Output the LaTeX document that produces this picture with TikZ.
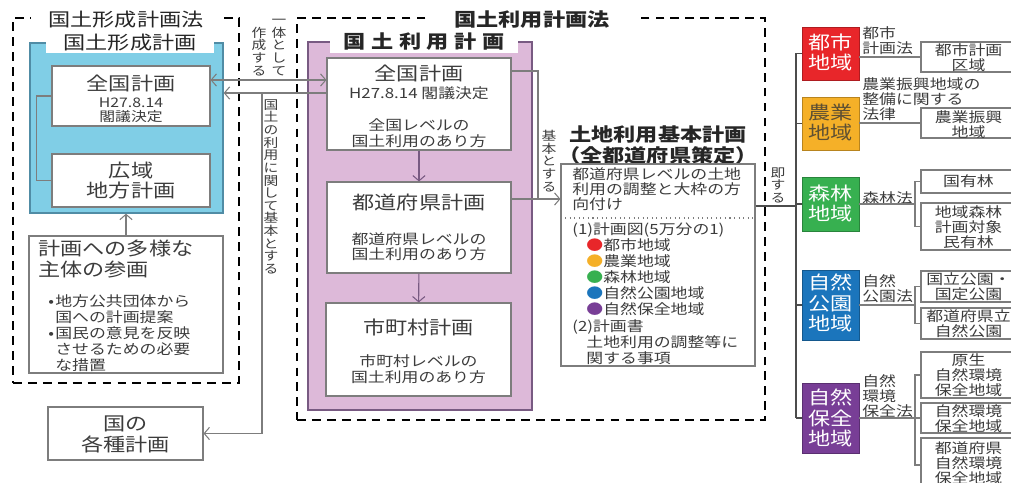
\documentclass[tikz,border=0pt]{standalone}
\usepackage{fontspec}
\setmainfont{Noto Sans CJK JP}[FakeStretch=1.2]
\usetikzlibrary{fit,arrows.meta}

\definecolor{kpanel}{RGB}{128,206,230}
\definecolor{kline}{RGB}{80,140,165}
\definecolor{rpanel}{RGB}{221,185,217}
\definecolor{rline}{RGB}{120,90,130}
\definecolor{lgray}{RGB}{125,125,125}
\definecolor{txt}{RGB}{60,60,60}
\definecolor{cToshi}{RGB}{232,38,42}
\definecolor{cNogyo}{RGB}{245,176,40}
\definecolor{cShinrin}{RGB}{55,176,80}
\definecolor{cKoen}{RGB}{27,117,188}
\definecolor{cHozen}{RGB}{120,62,150}
\definecolor{nogyoText}{RGB}{95,80,50}

\newcommand\fL{\fontsize{10.5}{11.6}\selectfont\lineskiplimit=-\maxdimen}
\newcommand\fM{\fontsize{8}{8.6}\selectfont\lineskiplimit=-\maxdimen}
\newcommand\fB{\fontsize{8}{9.2}\selectfont\lineskiplimit=-\maxdimen}
\newcommand\fS{\fontsize{7.5}{8.2}\selectfont\lineskiplimit=-\maxdimen}
\newcommand\fV{\fontsize{7}{7.2}\selectfont\lineskiplimit=-\maxdimen}
\newcommand\bul{\makebox[0.5em][l]{•}}

\begin{document}
\begin{tikzpicture}[x=0.02cm,y=-0.02cm,>={Straight Barb[length=3pt,width=7pt]},
  box/.style={draw=lgray,fill=white,line width=0.6pt,inner sep=0pt,align=center,text=txt},
  inbox/.style={anchor=north,inner sep=0pt,align=center,text=txt},
  panel/.style={line width=0.8pt,inner sep=0pt},
  frame/.style={draw=black,line width=1.6pt,dash pattern=on 5pt off 3.5pt,inner sep=0pt},
  head/.style={fill=white,inner ysep=1pt,text=black!85},
  chip/.style={draw=#1!75!black,fill=#1,inner sep=0pt},
  law/.style={inner sep=0pt,align=left,text=txt,font=\fM},
  vtext/.style={inner sep=0pt,align=center,text=txt,font=\fV},
  link/.style={draw=lgray,line width=0.6pt}]
\useasboundingbox (0,0) rectangle (1011,483);
\clip (0,0) rectangle (1011,483);

% frames of the two laws
    \node[frame,fit={(13,18) (239,383)}] (fL) {};
    \node[frame,fit={(297,18) (765,420)}] (fC) {};
    \node[head,font=\fL,inner xsep=10pt] (fLt) at (126,20) {国土形成計画法};
    \node[head,font=\fL\bfseries,inner xsep=15pt] (fCt) at (532,20) {国土利用計画法};

% left: 国土形成計画
    \node[panel,draw=kline,fill=kpanel,fit={(30,43) (223,213)}] (kp) {};
    \node[head,font=\fL,inner xsep=10pt] (kpt) at (130,43) {国土形成計画};
    \node[box,fit={(52,66) (210,126)}] (zkL) {};
    \node[inbox,font=\fS] (zkLt) at ([yshift=-5.1pt]zkL.north) {\fL 全国計画\\[1.6pt]\fS H27.8.14\\閣議決定};
    \node[box,fit={(52,154) (210,207)}] (kouiki) {};
    \node[inbox,font=\fL] (kouikit) at ([yshift=-4.5pt]kouiki.north) {広域\\地方計画};
    \node[box,fit={(29,236) (223,373)}] (sankaku) {};
    \node[inner sep=0pt,anchor=north west,align=left,text=txt,font=\fL] (sankakuT) at (38,240) {計画への多様な\\主体の参画};
    \node[inner sep=0pt,anchor=north west,align=left,text=txt,font=\fB] (sankakuB) at (48,294)
      {\bul 地方公共団体から\\\hspace*{0.5em}国への計画提案\\\bul 国民の意見を反映\\\hspace*{0.5em}させるための必要\\\hspace*{0.5em}な措置};
    \node[box,fit={(48,407) (203,460)}] (kakushu) {};
    \node[inbox,font=\fL] (kakushut) at ([yshift=-5.4pt]kakushu.north) {国の\\各種計画};

% center: 国土利用計画
    \node[panel,draw=rline,fill=rpanel,fit={(308,42) (532,410)}] (rp) {};
    \node[head,font=\fL\bfseries,inner xsep=8pt] (rpt) at (424,42) {国\hspace{.3em}土\hspace{.3em}利\hspace{.3em}用\hspace{.3em}計\hspace{.3em}画};
    \node[box,fit={(327,58) (511,150)}] (zkC) {};
    \node[inbox,font=\fM] (zkCt) at ([yshift=-4pt]zkC.north) {\fL 全国計画\\[1.6pt]\fM H27.8.14 閣議決定\\[10pt]全国レベルの\\国土利用のあり方};
    \node[box,fit={(327,182) (511,273)}] (tdfk) {};
    \node[inbox,font=\fM] (tdfkt) at ([yshift=-6.8pt]tdfk.north) {\fL 都道府県計画\\[11.5pt]\fM 都道府県レベルの\\国土利用のあり方};
    \node[box,fit={(326,303) (511,396)}] (sck) {};
    \node[inbox,font=\fM] (sckt) at ([yshift=-9pt]sck.north) {\fL 市町村計画\\[10pt]\fM 市町村レベルの\\国土利用のあり方};

% 土地利用基本計画
    \node[inner sep=0pt,font=\fL\bfseries,align=center,text=black!85] (kihonT) at (658,145) {土地利用基本計画\\（全都道府県策定）};
    \node[box,fit={(561,164) (755,366)}] (kihon) {};
    \node[law,anchor=north west] (kihonA) at (572,167) {都道府県レベルの土地\\利用の調整と大枠の方\\向付け};
    \coordinate (sep) at (0,218);
    \draw[link,dotted] (sep -| kihon.west) -- (sep -| kihon.east);
    \node[law,font=\fB,anchor=north west] (kihonB) at (572,222)
      {(1)計画図(5万分の1)\\
       \hspace*{1em}{\color{cToshi}●}都市地域\\
       \hspace*{1em}{\color{cNogyo}●}農業地域\\
       \hspace*{1em}{\color{cShinrin}●}森林地域\\
       \hspace*{1em}{\color{cKoen}●}自然公園地域\\
       \hspace*{1em}{\color{cHozen}●}自然保全地域\\
       (2)計画書\\
       \hspace*{1em}土地利用の調整等に\\
       \hspace*{1em}関する事項};

% right: 五地域
    \node[chip=cToshi,fit={(802,27) (859,80)}] (toshi) {};
    \node[inbox,font=\fL,text=white] (toshit) at ([yshift=-4pt]toshi.north) {都市\\地域};
    \node[chip=cNogyo,fit={(802,97) (859,150)}] (nogyo) {};
    \node[inbox,font=\fL,text=nogyoText] (nogyot) at ([yshift=-4pt]nogyo.north) {農業\\地域};
    \node[chip=cShinrin,fit={(802,177) (859,231)}] (shinrin) {};
    \node[inbox,font=\fL,text=white] (shinrint) at ([yshift=-4.5pt]shinrin.north) {森林\\地域};
    \node[chip=cKoen,fit={(802,270) (859,340)}] (koen) {};
    \node[inbox,font=\fL,text=white] (koent) at ([yshift=-2.3pt]koen.north) {自然\\公園\\地域};
    \node[chip=cHozen,fit={(802,383) (859,453)}] (hozen) {};
    \node[inbox,font=\fL,text=white] (hozent) at ([yshift=-3.4pt]hozen.north) {自然\\保全\\地域};

    \node[law,anchor=north west] (lToshi) at (862,26) {都市\\計画法};
    \node[law,anchor=north west] (lNogyo) at (862,77) {農業振興地域の\\整備に関する\\法律};
    \node[law,anchor=south west] (lShinrin) at (862,205) {森林法};
    \node[law,anchor=south west] (lKoen) at (862,303) {自然\\公園法};
    \node[law,anchor=north west] (lHozen) at (862,374) {自然\\環境\\保全法};

    \node[box,fit={(921,42) (1016,72)}] (rb1) {};
    \node[inbox,font=\fM] (rb1t) at ([yshift=-1pt]rb1.north) {都市計画\\区域};
    \node[box,fit={(921,108) (1016,138)}] (rb2) {};
    \node[inbox,font=\fM] (rb2t) at ([yshift=-1.6pt]rb2.north) {農業振興\\地域};
    \node[box,fit={(921,170) (1016,193)}] (rb3) {};
    \node[inbox,font=\fM] (rb3t) at ([yshift=-2.6pt]rb3.north) {国有林};
    \node[box,fit={(921,203) (1016,250)}] (rb4) {};
    \node[inbox,font=\fM] (rb4t) at ([yshift=-1.6pt]rb4.north) {地域森林\\計画対象\\民有林};
    \node[box,fit={(921,271) (1016,302)}] (rb5) {};
    \node[inbox,font=\fM] (rb5t) at ([yshift=-1pt]rb5.north) {国立公園・\\国定公園};
    \node[box,fit={(921,308) (1016,339)}] (rb6) {};
    \node[inbox,font=\fM] (rb6t) at ([yshift=-1pt]rb6.north) {都道府県立\\自然公園};
    \node[box,fit={(921,352) (1016,398)}] (rb7) {};
    \node[inbox,font=\fM] (rb7t) at ([yshift=-1pt]rb7.north) {原生\\自然環境\\保全地域};
    \node[box,fit={(921,403) (1016,433)}] (rb8) {};
    \node[inbox,font=\fM] (rb8t) at ([yshift=-1pt]rb8.north) {自然環境\\保全地域};
    \node[box,fit={(921,438) (1016,492)}] (rb9) {};
    \node[inbox,font=\fM] (rb9t) at ([yshift=-2pt]rb9.north) {都道府県\\自然環境\\保全地域};

% vertical labels
    \node[vtext,anchor=south] (ittai) at (279,76) {一\\体\\と\\し\\て};
    \node[vtext,anchor=south] (sakusei) at (259,76) {作\\成\\す\\る};
    \node[vtext,anchor=north] (kihonL) at (271,99) {国\\土\\の\\利\\用\\に\\関\\し\\て\\基\\本\\と\\す\\る};
    \node[vtext,anchor=north] (kihonC) at (549,130) {基\\本\\と\\す\\る};
    \node[vtext,anchor=north] (soku) at (778,167) {即\\す\\る};

% connectors
    \coordinate (ya) at (0,80);
    \coordinate (yb) at (262,93);
    \draw[link,<->] (ya -| zkL.east) -- (ya -| zkC.west);
    \draw[link,->] (yb -| zkC.west) -- (yb -| kp.east);
    \draw[link,->] (yb) |- (kakushu.east);
    \draw[link] (zkL.west) -- ++(-15,0) |- (kouiki.west);
    \draw[link,->] (sankaku.north) -- (sankaku.north |- kp.south);

    \draw[link,draw=rline,->] (zkC) -- (tdfk);
    \draw[link,draw=rline,->] (tdfk) -- (sck);
    \coordinate (kj0) at (538,71);
    \coordinate (kj) at (538,199);
    \draw[link] (kj0 -| zkC.east) -- (kj0) -- (kj);
    \draw[link] (kj -| tdfk.east) -- (kj);
    \draw[link,->] (kj) -- (kj -| kihon.west);

    \coordinate (bus) at (796,0);
    \coordinate (sk) at (796,206);
    \draw[link,draw=black!70] (toshi.west -| bus) -- (hozen.west -| bus);
    \foreach \n in {toshi,nogyo,shinrin,koen,hozen}
      \draw[link,draw=black!70] (\n.west) -- (\n.west -| bus);
    \draw[link,draw=black!70] (sk -| kihon.east) -- (sk);

    \coordinate (bk) at (915,0);
    \draw[link] (rb1.west -| toshi.east) -- (rb1.west);
    \draw[link] (rb2.west -| nogyo.east) -- (rb2.west);
    \draw[link] (shinrin.east) -- (shinrin.east -| bk);
    \draw[link] (rb3.west) -| (bk |- rb4.west) -- (rb4.west);
    \draw[link] (koen.east) -- (koen.east -| bk);
    \draw[link] (rb5.west) -| (bk |- rb6.west) -- (rb6.west);
    \draw[link] (hozen.east) -- (hozen.east -| bk);
    \draw[link] (rb7.west) -| (bk |- rb9.west) -- (rb9.west);
    \draw[link] (rb8.west) -- (rb8.west -| bk);
\end{tikzpicture}
\end{document}
